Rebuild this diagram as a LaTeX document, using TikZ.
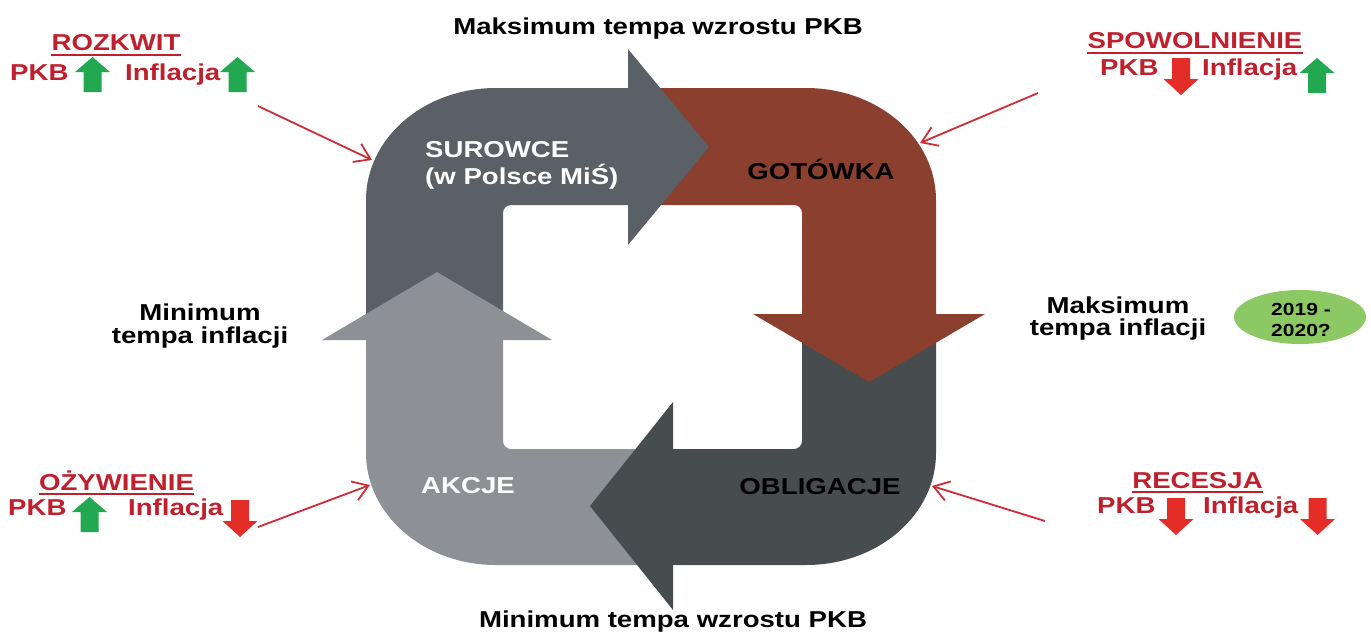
\documentclass[tikz,border=0pt]{standalone}
\usepackage{fontspec}
\setmainfont{Liberation Sans}
\newfontfamily\labfont[FakeStretch=1.2]{Liberation Sans}
\usetikzlibrary{arrows.meta,shapes.geometric}
\definecolor{gA}{RGB}{91,95,102}
\definecolor{brn}{RGB}{138,63,47}
\definecolor{gB}{RGB}{71,76,79}
\definecolor{gC}{RGB}{141,145,150}
\definecolor{grn}{RGB}{33,168,80}
\definecolor{redA}{RGB}{229,45,40}
\definecolor{redT}{RGB}{192,32,45}
\definecolor{redL}{RGB}{205,45,55}
\definecolor{ellg}{RGB}{140,200,100}
\newcommand\ringpath{(366,200) .. controls (366,138) and (424,88) .. (496,88) -- (806,88) .. controls (878,88) and (936,138) .. (936,200) -- (936,453) .. controls (936,515) and (878,565) .. (806,565) -- (496,565) .. controls (424,565) and (366,515) .. (366,453) -- cycle [rounded corners=8pt] (503,205) rectangle (802,449)}
\begin{document}
\begin{tikzpicture}[x=1pt,y=-1pt,
  txt/.style={inner sep=0pt, font=\labfont\bfseries\fontsize{23}{23}\selectfont},
  redtxt/.style={txt, text=redT},
  smalltxt/.style={inner sep=0pt, font=\labfont\bfseries\fontsize{17.5}{17.5}\selectfont},
  pointer/.style={draw=redL, line width=1.8pt, -{Straight Barb[length=15pt,width=20pt]}},
  uline/.style={draw=redT, line width=2pt},
  uparr/.pic={\fill[grn] (0,0) -- (17.5,15) -- (9,15) -- (9,35) -- (-9,35) -- (-9,15) -- (-17.5,15) -- cycle;},
  dnarr/.pic={\fill[redA] (-9,0) -- (9,0) -- (9,21) -- (17.5,21) -- (0,37) -- (-17.5,21) -- (-9,21) -- cycle;}
]
\useasboundingbox (0,0) rectangle (1371,633);
% ring bodies
\begin{scope}\clip (300,0) rectangle (640,338); \fill[gA,even odd rule] \ringpath; \end{scope}
\begin{scope}\clip (640,0) rectangle (1000,318); \fill[brn,even odd rule] \ringpath; \end{scope}
\begin{scope}\clip (668,318) rectangle (1000,633); \fill[gB,even odd rule] \ringpath; \end{scope}
\begin{scope}\clip (300,338) rectangle (668,633); \fill[gC,even odd rule] \ringpath; \end{scope}
% heads
\fill[gA] (628,49) -- (709,147) -- (628,245) -- cycle;
\fill[brn] (753,314) -- (869,382) -- (985,314) -- cycle;
\fill[gB] (673,402) -- (590,506) -- (673,610) -- cycle;
\fill[gC] (322,340) -- (437,272) -- (552,340) -- cycle;
% ring labels
\node[txt,text=white,anchor=base west] (sur1) at (425,157) {SUROWCE};
\node[txt,text=white,anchor=base west] (sur2) at (425,184) {(w Polsce MiŚ)};
\node[txt,anchor=base] (got) at (821,179) {GOTÓWKA};
\node[txt,anchor=base] (obl) at (820,494) {OBLIGACJE};
\node[txt,text=white,anchor=base] (akc) at (468,493) {AKCJE};
% phase captions
\node[txt,anchor=base] (maxpkb) at (658,34) {Maksimum tempa wzrostu PKB};
\node[txt,anchor=base] (minpkb) at (673,627) {Minimum tempa wzrostu PKB};
\node[txt,anchor=base] (mininf1) at (200,320) {Minimum};
\node[txt,anchor=base] (mininf2) at (200,343) {tempa inflacji};
\node[txt,anchor=base] (maxinf1) at (1118,313) {Maksimum};
\node[txt,anchor=base] (maxinf2) at (1118,335) {tempa inflacji};
\node[ellipse, fill=ellg, minimum width=132, minimum height=54, inner sep=0pt] (el) at (1300,317) {};
\node[smalltxt,anchor=base] (el1) at (1301,315) {2019 -};
\node[smalltxt,anchor=base] (el2) at (1301,336) {2020?};
% ROZKWIT
\node[redtxt,anchor=base] (rozk) at (116,50) {ROZKWIT};
\draw[uline] ([yshift=-5pt]rozk.base west) -- ([yshift=-5pt]rozk.base east);
\node[redtxt,anchor=base west] (rpkb) at (10,80) {PKB};
\node[redtxt,anchor=base west] (rinf) at (125,80) {Inflacja};
\pic at (92.5,57) {uparr};
\pic at (237.5,57) {uparr};
% SPOWOLNIENIE
\node[redtxt,anchor=base] (spow) at (1195,48) {SPOWOLNIENIE};
\draw[uline] ([yshift=-5pt]spow.base west) -- ([yshift=-5pt]spow.base east);
\node[redtxt,anchor=base west] (spkb) at (1100,75) {PKB};
\node[redtxt,anchor=base west] (sinf) at (1202,75) {Inflacja};
\pic at (1181,58) {dnarr};
\pic at (1317,58) {uparr};
% OZYWIENIE
\node[redtxt,anchor=base] (ozyw) at (116.5,490) {OŻYWIENIE};
\draw[uline] ([yshift=-4pt]ozyw.base west) -- ([yshift=-4pt]ozyw.base east);
\node[redtxt,anchor=base west] (opkb) at (8,515) {PKB};
\node[redtxt,anchor=base west] (oinf) at (128,515) {Inflacja};
\pic at (89.5,497) {uparr};
\pic at (240,500) {dnarr};
% RECESJA
\node[redtxt,anchor=base] (rec) at (1197.5,488) {RECESJA};
\draw[uline] ([yshift=-4pt]rec.base west) -- ([yshift=-4pt]rec.base east);
\node[redtxt,anchor=base west] (cpkb) at (1097,513) {PKB};
\node[redtxt,anchor=base west] (cinf) at (1203,513) {Inflacja};
\pic at (1176,498) {dnarr};
\pic at (1317.5,498) {dnarr};
% pointers
\coordinate (p1s) at (258,106); \coordinate (p1e) at (372,160);
\coordinate (p2s) at (1038,93); \coordinate (p2e) at (920,143);
\coordinate (p3s) at (258,527); \coordinate (p3e) at (370,485);
\coordinate (p4s) at (1045,521); \coordinate (p4e) at (932,486);
\draw[pointer] (p1s) -- (p1e);
\draw[pointer] (p2s) -- (p2e);
\draw[pointer] (p3s) -- (p3e);
\draw[pointer] (p4s) -- (p4e);
\end{tikzpicture}
\end{document}
